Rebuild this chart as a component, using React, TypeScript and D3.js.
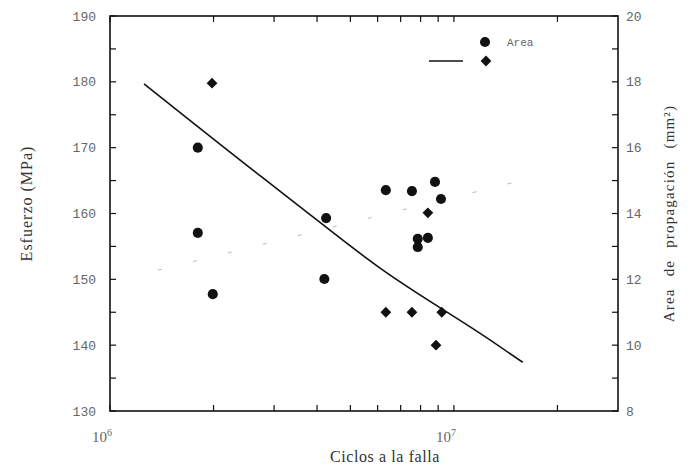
import React from "react";
import * as d3 from "d3";

// Stress series (diamonds, left axis) : [cycles, MPa]
const stressPoints: [number, number][] = [
  [1.98e6, 179.8],
  [8.4e6, 160.1],
  [6.34e6, 145.0],
  [7.55e6, 145.0],
  [9.22e6, 145.0],
  [8.87e6, 140.0],
];

// Area series (circles, right axis) : [cycles, mm²]
const areaPoints: [number, number][] = [
  [1.8e6, 16.0],
  [1.8e6, 13.41],
  [1.99e6, 11.55],
  [4.25e6, 13.86],
  [4.2e6, 12.01],
  [6.34e6, 14.71],
  [7.55e6, 14.68],
  [8.81e6, 14.96],
  [9.17e6, 14.44],
  [7.85e6, 13.23],
  [8.4e6, 13.26],
  [7.85e6, 12.98],
];

// Fitted stress curve
const fitCurve: [number, number][] = [
  [1.256e6, 179.7],
  [2.785e6, 165.4],
  [3.34e6, 162.2],
  [6.1e6, 151.7],
  [1.273e7, 140.8],
  [1.585e7, 137.4],
];

// Faint area trend (dotted)
const areaTrend: [number, number][] = [
  [1.379e6, 12.28],
  [1.557e7, 14.99],
];

const leftTicks = [130, 140, 150, 160, 170, 180, 190];
const rightTicks = [8, 10, 12, 14, 16, 18, 20];
const xMajor = [1e6, 1e7];
const xMinor = [2e6, 3e6, 4e6, 5e6, 6e6, 7e6, 8e6, 9e6, 2e7];

const L = 110, R = 618, T = 16, B = 411;

export default function App() {
  const x = d3.scaleLog().domain([1e6, 3e7]).range([L, R]);
  const yL = d3.scaleLinear().domain([130, 190]).range([B, T]);
  const yR = d3.scaleLinear().domain([8, 20]).range([B, T]);

  const fitLine = d3
    .line<[number, number]>()
    .x((d) => x(d[0]))
    .y((d) => yL(d[1]))
    .curve(d3.curveMonotoneX);
  const trendLine = d3
    .line<[number, number]>()
    .x((d) => x(d[0]))
    .y((d) => yR(d[1]));

  const diamond = d3.symbol().type(d3.symbolSquare).size(58)();
  const circle = d3.symbol().type(d3.symbolCircle).size(80)();

  const leftMinor = d3.range(130, 191, 5);
  const rightMinor = d3.range(8, 20.01, 1);
  const labelColor = "#666";
  const tickFont = "'Liberation Mono', monospace";

  return (
    <svg
      width={690}
      height={470}
      style={{ position: "absolute", left: 0, top: 0, background: "#fff" }}
      fontFamily="'Liberation Serif', serif"
    >
      {/* frame */}
      <rect x={L} y={T} width={R - L} height={B - T} fill="none" stroke="#111" strokeWidth={1.6} />

      {/* ticks */}
      {leftMinor.map((v) => (
        <line key={"lt" + v} x1={L} x2={L + 6} y1={yL(v)} y2={yL(v)} stroke="#111" strokeWidth={1.2} />
      ))}
      {rightMinor.map((v) => (
        <line key={"rt" + v} x1={R} x2={R - 6} y1={yR(v)} y2={yR(v)} stroke="#111" strokeWidth={1.2} />
      ))}
      {[...xMajor, ...xMinor].map((v) => (
        <g key={"xt" + v}>
          <line x1={x(v)} x2={x(v)} y1={B} y2={B - 6} stroke="#111" strokeWidth={1.2} />
          <line x1={x(v)} x2={x(v)} y1={T} y2={T + 6} stroke="#111" strokeWidth={1.2} />
        </g>
      ))}

      {/* tick labels */}
      {leftTicks.map((v) => (
        <text key={"ll" + v} x={L - 14} y={yL(v)} dy="0.35em" textAnchor="end" fontSize={13} fill={labelColor} fontFamily={tickFont}>
          {v}
        </text>
      ))}
      {rightTicks.map((v) => (
        <text key={"rl" + v} x={R + 8} y={yR(v)} dy="0.35em" textAnchor="start" fontSize={13} fill={labelColor} fontFamily={tickFont}>
          {v}
        </text>
      ))}

      {/* x labels */}
      {xMajor.map((v) => (
        <text key={"xl" + v} x={x(v) - 8} y={442} textAnchor="middle" fontSize={15} fill={labelColor}>
          10
          <tspan dy={-6} fontSize={10}>
            {Math.round(Math.log10(v))}
          </tspan>
        </text>
      ))}

      {/* axis titles */}
      <text x={385} y={462} textAnchor="middle" fontSize={16} fill="#333" letterSpacing={0.6}>
        Ciclos a la falla
      </text>
      <text
        transform={`translate(32, ${(T + B) / 2 - 10}) rotate(-90)`}
        textAnchor="middle"
        fontSize={16}
        fill="#333"
        letterSpacing={1}
      >
        Esfuerzo  (MPa)
      </text>
      <text
        transform={`translate(674, ${(T + B) / 2}) rotate(-90)`}
        textAnchor="middle"
        fontSize={15}
        fill="#333"
        letterSpacing={1.2}
        wordSpacing={7}
      >
        Area de propagación (mm²)
      </text>

      {/* faint area trend */}
      <path d={trendLine(areaTrend) || ""} fill="none" stroke="#bbb" strokeWidth={1} strokeDasharray="4 32" />

      {/* fit curve */}
      <path d={fitLine(fitCurve) || ""} fill="none" stroke="#111" strokeWidth={1.6} />

      {/* area points */}
      {areaPoints.map((d, i) => (
        <path key={"a" + i} d={circle || ""} transform={`translate(${x(d[0])},${yR(d[1])})`} fill="#111" />
      ))}
      {/* stress points */}
      {stressPoints.map((d, i) => (
        <path key={"s" + i} d={diamond || ""} transform={`translate(${x(d[0])},${yL(d[1])}) rotate(45)`} fill="#111" />
      ))}

      {/* legend */}
      <path d={circle || ""} transform="translate(485,42)" fill="#111" />
      <text x={507} y={46} fontSize={11} fill={labelColor} fontFamily={tickFont}>
        Area
      </text>
      <line x1={429} x2={463} y1={61} y2={61} stroke="#111" strokeWidth={1.6} />
      <path d={diamond || ""} transform="translate(486,61) rotate(45)" fill="#111" />
    </svg>
  );
}
